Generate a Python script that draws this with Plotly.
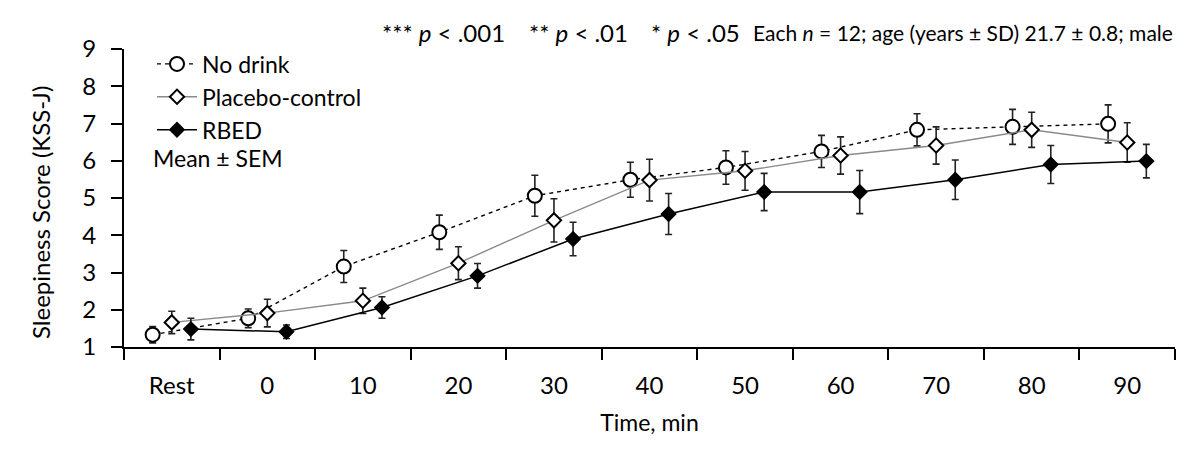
import plotly.graph_objects as go

categories = ["Rest", "0", "10", "20", "30", "40", "50", "60", "70", "80", "90"]
no_drink = [1.33, 1.77, 3.16, 4.08, 5.06, 5.49, 5.82, 6.25, 6.83, 6.91, 6.99]
no_drink_sem = [0.22, 0.25, 0.43, 0.46, 0.55, 0.47, 0.45, 0.43, 0.43, 0.47, 0.51]
placebo = [1.66, 1.91, 2.24, 3.25, 4.40, 5.48, 5.73, 6.14, 6.41, 6.83, 6.49]
placebo_sem = [0.30, 0.37, 0.34, 0.44, 0.58, 0.56, 0.52, 0.50, 0.50, 0.47, 0.53]
rbed = [1.48, 1.41, 2.06, 2.91, 3.90, 4.57, 5.16, 5.16, 5.49, 5.90, 5.99]
rbed_sem = [0.29, 0.18, 0.29, 0.33, 0.45, 0.55, 0.50, 0.58, 0.53, 0.51, 0.45]
y_ticks = [1, 2, 3, 4, 5, 6, 7, 8, 9]

FONT = "Lato"
idx = list(range(len(categories)))

# plot area in page pixels (page body adds an 8px offset)
PL, PR, PT, PB = 124, 1175, 49, 347
PW, PH = PR - PL, PB - PT

def px_x(p):
    return (p - PL) / PW

def px_y(p):
    return (PB - p) / PH

def xs(off):
    return [i + off for i in idx]

def err(vals):
    return dict(type="data", array=vals, visible=True, color="#222222",
                thickness=1.6, width=3.5)

fig = go.Figure()
fig.add_trace(go.Scatter(
    x=xs(-0.2), y=no_drink, name="No drink", mode="lines+markers",
    line=dict(color="black", width=1.4, dash="4px,4px"),
    marker=dict(symbol="circle", size=14, color="white",
                line=dict(color="black", width=2)),
    error_y=err(no_drink_sem)))
fig.add_trace(go.Scatter(
    x=xs(0.0), y=placebo, name="Placebo-control", mode="lines+markers",
    line=dict(color="#8a8a8a", width=1.4),
    marker=dict(symbol="diamond", size=11, color="white",
                line=dict(color="black", width=2)),
    error_y=err(placebo_sem)))
fig.add_trace(go.Scatter(
    x=xs(0.2), y=rbed, name="RBED", mode="lines+markers",
    line=dict(color="black", width=1.5),
    marker=dict(symbol="diamond", size=11, color="black",
                line=dict(color="black", width=1.5)),
    error_y=err(rbed_sem)))

OFF = 8
fig.update_layout(
    width=1200, height=450,
    margin=dict(l=PL - OFF, r=1200 - PR + OFF, t=PT - OFF, b=450 - PB + OFF,
                autoexpand=False),
    paper_bgcolor="white", plot_bgcolor="white",
    font=dict(family=FONT, size=24, color="black"),
    showlegend=True,
    legend=dict(x=px_x(152), y=1.022, xanchor="left", yanchor="top",
                bgcolor="rgba(0,0,0,0)", font=dict(size=23),
                itemwidth=40, tracegroupgap=0),
    xaxis=dict(
        range=[-0.5, len(categories) - 0.5],
        tickmode="array", tickvals=idx, ticktext=categories,
        ticks="outside", ticklen=16, tickcolor="rgba(0,0,0,0)",
        showline=True, linecolor="black", linewidth=2,
        showgrid=False, zeroline=False,
        minor=dict(tickmode="array",
                   tickvals=[i - 0.5 for i in range(len(categories) + 1)],
                   ticks="outside", ticklen=11, tickwidth=1.5,
                   tickcolor="black", showgrid=False),
        title=dict(text="Time, min", font=dict(size=23), standoff=17),
        tickfont=dict(size=24),
    ),
    yaxis=dict(
        range=[1, 9], tickmode="array", tickvals=y_ticks,
        ticks="outside", ticklen=11, tickwidth=1.5, tickcolor="black",
        showline=True, linecolor="black", linewidth=2,
        showgrid=False, zeroline=False,
        tickfont=dict(size=24), ticklabelstandoff=10,
    ),
)

fig.add_annotation(xref="paper", yref="paper", x=px_x(40), y=px_y(213),
                   xanchor="center", yanchor="middle", showarrow=False,
                   textangle=-90, text="Sleepiness Score (KSS-J)",
                   font=dict(size=24))
fig.add_annotation(xref="paper", yref="paper", x=px_x(151), y=px_y(158),
                   xanchor="left", yanchor="middle", showarrow=False,
                   text="Mean ± SEM", font=dict(size=23))
for txt, left in [("*** <i>p</i> < .001", 380), ("** <i>p</i> < .01", 527),
                  ("* <i>p</i> < .05", 649)]:
    fig.add_annotation(xref="paper", yref="paper", x=px_x(left), y=px_y(32),
                       xanchor="left", yanchor="middle", showarrow=False,
                       text=txt, font=dict(size=24))
fig.add_annotation(xref="paper", yref="paper", x=1.0, y=px_y(32),
                   xanchor="right", yanchor="middle", showarrow=False,
                   text="Each <i>n</i> = 12; age (years ± SD) 21.7 ± 0.8; male",
                   font=dict(size=21))

fig.write_html("out.html")
